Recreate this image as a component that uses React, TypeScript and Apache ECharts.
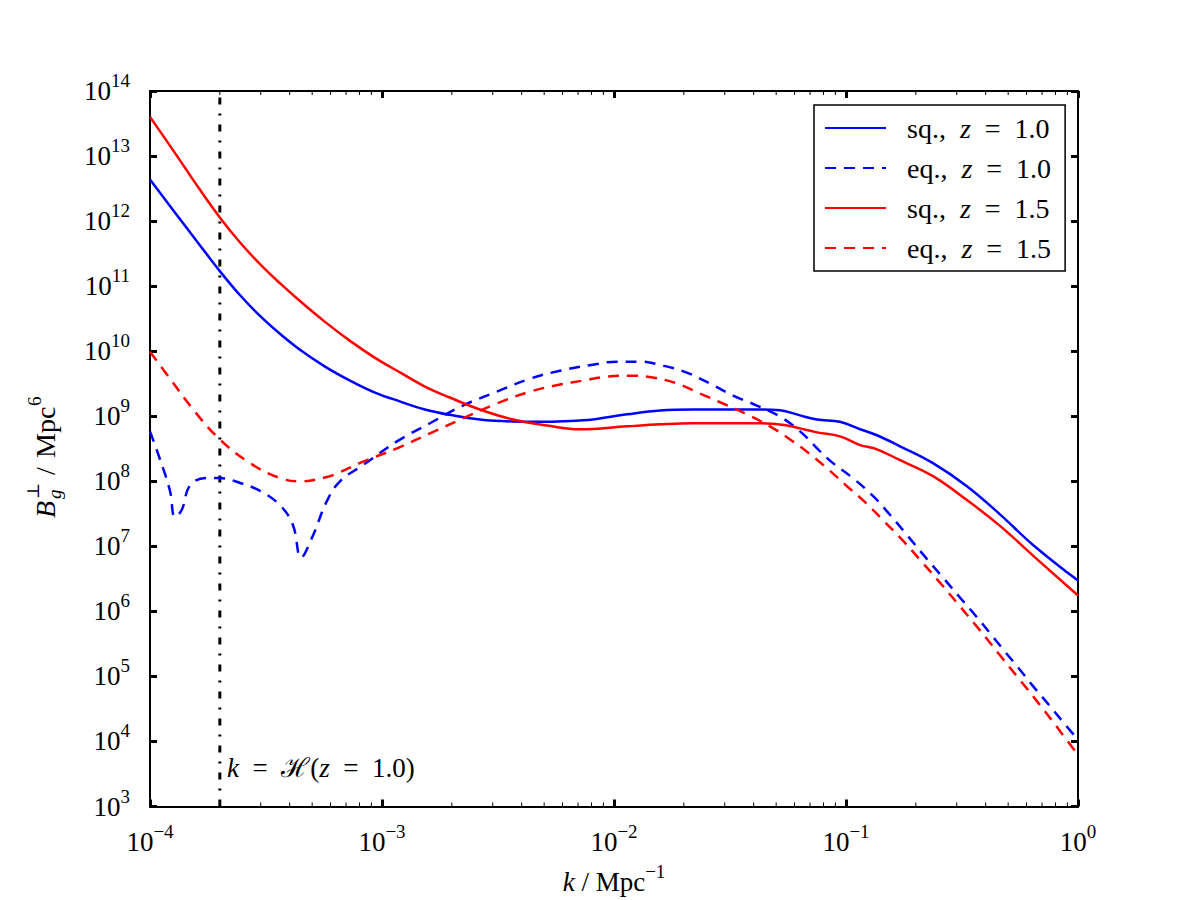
import { useEffect, useRef } from "react";
import * as echarts from "echarts";

const FONT = "'Liberation Serif', 'Times New Roman', 'DejaVu Serif', serif";
const EN = "\u2002";

const X_MIN = 1e-4;
const X_MAX = 1;
const Y_MIN = 1e3;
const Y_MAX = 1e14;

// sq., z = 1.0 (blue solid)
const kSq10 = [1.0e-4, 1.28e-4, 1.64e-4, 2.0e-4, 2.44e-4, 2.98e-4, 3.63e-4, 4.43e-4, 5.68e-4, 7.28e-4, 9.33e-4, 1.2e-3, 1.53e-3, 1.96e-3, 2.64e-3, 3.67e-3, 5.14e-3, 7.13e-3, 8.11e-3, 1.14e-2, 1.58e-2, 2.19e-2, 4.26e-2, 5.19e-2, 6.34e-2, 7.5e-2, 9.42e-2, 0.115, 0.136, 0.171, 0.237, 0.332, 0.461, 0.64, 1.0];
const bSq10 = [4.35e12, 1.36e12, 4.26e11, 1.7e11, 7.3e10, 3.48e10, 1.85e10, 1.05e10, 5.8e9, 3.53e9, 2.31e9, 1.68e9, 1.27e9, 1.05e9, 8.9e8, 8.3e8, 8.2e8, 8.6e8, 8.9e8, 1.07e9, 1.23e9, 1.27e9, 1.27e9, 1.24e9, 1.03e9, 8.9e8, 8.2e8, 6.3e8, 5.1e8, 3.45e8, 1.9e8, 8.4e7, 3.1e7, 1.05e7, 2.97e6];

// eq., z = 1.0 (blue dashed)
const kEq10 = [1.0e-4, 1.1e-4, 1.22e-4, 1.28e-4, 1.37e-4, 1.49e-4, 1.76e-4, 2.0e-4, 2.45e-4, 2.98e-4, 3.63e-4, 4.13e-4, 4.48e-4, 4.99e-4, 5.79e-4, 6.59e-4, 8.28e-4, 1.16e-3, 1.61e-3, 2.23e-3, 3.13e-3, 4.35e-3, 5.85e-3, 8.11e-3, 1.03e-2, 1.29e-2, 1.63e-2, 2.06e-2, 2.59e-2, 3.26e-2, 4.13e-2, 5.19e-2, 6.34e-2, 7.73e-2, 8.79e-2, 0.107, 0.131, 0.155, 0.183, 0.223, 0.262, 0.31, 0.367, 0.418, 0.475, 0.551, 0.64, 0.757, 0.861, 1.0];
const bEq10 = [5.85e8, 2.26e8, 7.1e7, 2.83e7, 3.62e7, 8.7e7, 1.12e8, 1.12e8, 9.4e7, 7.1e7, 4.3e7, 2.13e7, 6.7e6, 1.35e7, 4.97e7, 1.0e8, 1.77e8, 4.1e8, 7.8e8, 1.46e9, 2.39e9, 3.78e9, 5.0e9, 6.2e9, 6.9e9, 6.9e9, 6.0e9, 4.68e9, 3.18e9, 2.08e9, 1.46e9, 9.9e8, 5.85e8, 2.89e8, 1.9e8, 1.12e8, 5.9e7, 3.03e7, 1.5e7, 6.4e6, 3.3e6, 1.63e6, 8.1e5, 4.6e5, 2.61e5, 1.38e5, 7.1e4, 3.5e4, 2.0e4, 1.06e4];

// sq., z = 1.5 (red solid)
const kSq15 = [1.0e-4, 1.28e-4, 1.64e-4, 2.0e-4, 2.44e-4, 2.98e-4, 3.63e-4, 4.43e-4, 5.68e-4, 7.28e-4, 9.33e-4, 1.2e-3, 1.53e-3, 1.96e-3, 2.64e-3, 3.67e-3, 5.14e-3, 7.13e-3, 1.14e-2, 1.58e-2, 2.19e-2, 4.26e-2, 5.57e-2, 6.34e-2, 7.5e-2, 9.42e-2, 0.115, 0.136, 0.171, 0.237, 0.332, 0.461, 0.64, 1.0];
const bSq15 = [4.0e13, 1.12e13, 3.05e12, 1.14e12, 4.72e11, 2.18e11, 1.11e11, 5.9e10, 2.82e10, 1.44e10, 7.9e9, 4.68e9, 2.86e9, 1.94e9, 1.27e9, 8.9e8, 7.2e8, 6.3e8, 7.0e8, 7.5e8, 7.8e8, 7.8e8, 7.2e8, 6.5e8, 5.65e8, 4.9e8, 3.6e8, 3.1e8, 2.11e8, 1.2e8, 5.15e7, 2.06e7, 7.2e6, 1.75e6];

// eq., z = 1.5 (red dashed)
const kEq15 = [1.0e-4, 1.22e-4, 1.56e-4, 2.0e-4, 2.7e-4, 3.63e-4, 4.43e-4, 5.79e-4, 6.59e-4, 8.28e-4, 1.16e-3, 1.61e-3, 2.23e-3, 3.13e-3, 4.35e-3, 5.85e-3, 7.35e-3, 9.33e-3, 1.17e-2, 1.47e-2, 1.87e-2, 2.35e-2, 2.95e-2, 3.74e-2, 4.7e-2, 5.74e-2, 7.0e-2, 8.27e-2, 0.101, 0.123, 0.144, 0.176, 0.2085, 0.254, 0.31, 0.378, 0.461, 0.562, 0.686, 0.836, 1.0];
const bEq15 = [9.8e9, 3.78e9, 1.18e9, 4.4e8, 1.9e8, 1.12e8, 1.0e8, 1.16e8, 1.38e8, 2.0e8, 3.21e8, 5.46e8, 9.25e8, 1.57e9, 2.39e9, 3.07e9, 3.53e9, 4.07e9, 4.2e9, 3.93e9, 3.18e9, 2.23e9, 1.57e9, 1.07e9, 7.0e8, 4.4e8, 2.61e8, 1.59e8, 8.4e7, 4.5e7, 2.55e7, 1.22e7, 6.2e6, 2.77e6, 1.19e6, 5.1e5, 2.11e5, 8.8e4, 3.63e4, 1.45e4, 6.2e3];

// horizon scale k = H(z = 1.0)
const horizonK = 2e-4;
const horizonB = [Y_MIN, Y_MAX];

const seriesNames = ["sq., z = 1.0", "eq., z = 1.0", "sq., z = 1.5", "eq., z = 1.5"];

// minor tick positions on the log x axis
const minorTickK: number[] = [];
for (let d = -4; d < 0; d++) {
  for (let m = 2; m <= 9; m++) minorTickK.push(m * Math.pow(10, d));
}

const zip = (ks: number[], bs: number[]) => ks.map((k, i) => [k, bs[i]]);

const labelRich = {
  b: { fontFamily: FONT, fontSize: 27, lineHeight: 40, color: "#000" },
  s: { fontFamily: FONT, fontSize: 19, lineHeight: 19, color: "#000", verticalAlign: "top" },
};

const textRich = {
  r: { fontFamily: FONT, fontSize: 27, lineHeight: 40, color: "#000" },
  i: { fontFamily: FONT, fontSize: 27, lineHeight: 40, color: "#000", fontStyle: "italic" },
  s: { fontFamily: FONT, fontSize: 19, lineHeight: 19, color: "#000", verticalAlign: "top" },
};

const legendRich = {
  r: { fontFamily: FONT, fontSize: 28, lineHeight: 30, color: "#000" },
  i: { fontFamily: FONT, fontSize: 28, lineHeight: 30, color: "#000", fontStyle: "italic" },
};

const expFormatter = (v: number) => {
  const e = Math.round(Math.log10(v));
  const es = e < 0 ? "\u2212" + -e : String(e);
  return `{b|10}{s|${es}}`;
};

const majorTick = { show: true, inside: true, length: 7, lineStyle: { color: "#000", width: 3 } };
const axisLine = { show: true, onZero: false, lineStyle: { color: "#000", width: 2 } };

export default function App() {
  const ref = useRef<HTMLDivElement>(null);
  useEffect(() => {
    if (!ref.current) return;
    const chart = echarts.init(ref.current, null, { renderer: "svg" });
    const line = (name: string, data: number[][], color: string, dashed: boolean) => ({
      name,
      type: "line",
      data,
      showSymbol: false,
      symbol: "none",
      smooth: 0.4,
      xAxisIndex: 0,
      yAxisIndex: 0,
      lineStyle: { color, width: 2.5, type: dashed ? [11, 8] : "solid" },
      itemStyle: { color },
      z: 3,
    });
    const option: any = {
      animation: false,
      backgroundColor: "#fff",
      grid: { left: 150, right: 122, top: 91, bottom: 90, containLabel: false },
      xAxis: [
        {
          type: "log",
          logBase: 10,
          min: X_MIN,
          max: X_MAX,
          interval: 1,
          position: "bottom",
          axisLine,
          axisTick: majorTick,
          splitLine: { show: false },
          axisLabel: { formatter: expFormatter, rich: labelRich, margin: 15, showMinLabel: true, showMaxLabel: true },
          name: "{i|k}{r| / Mpc}{s|\u22121}",
          nameLocation: "middle",
          nameGap: 55,
          nameTextStyle: { rich: textRich },
        },
        {
          type: "log",
          logBase: 10,
          min: X_MIN,
          max: X_MAX,
          interval: 1,
          position: "top",
          axisLine,
          axisTick: majorTick,
          splitLine: { show: false },
          axisLabel: { show: false },
        },
      ],
      yAxis: [
        {
          type: "log",
          logBase: 10,
          min: Y_MIN,
          max: Y_MAX,
          interval: 1,
          position: "left",
          axisLine,
          axisTick: majorTick,
          splitLine: { show: false },
          axisLabel: { formatter: expFormatter, rich: labelRich, margin: 20, showMinLabel: true, showMaxLabel: true },
        },
        {
          type: "log",
          logBase: 10,
          min: Y_MIN,
          max: Y_MAX,
          interval: 1,
          position: "right",
          axisLine,
          axisTick: majorTick,
          splitLine: { show: false },
          axisLabel: { show: false },
        },
      ],
      legend: {
        data: seriesNames,
        orient: "vertical",
        left: 814,
        top: 105,
        backgroundColor: "#fff",
        borderColor: "#000",
        borderWidth: 1.5,
        borderRadius: 0,
        padding: [9, 14, 9, 10],
        itemWidth: 61,
        itemHeight: 20,
        itemGap: 12,
        selectedMode: false,
        itemStyle: { color: "transparent", borderWidth: 0, opacity: 0 },
        formatter: (name: string) => {
          const parts = name.split(", z = ");
          return `{r|${parts[0]},${EN}}{i|z}{r|${EN}=${EN}${parts[1]}}`;
        },
        textStyle: { rich: legendRich, padding: [0, 0, 0, 16] },
      },
      graphic: [
        {
          type: "text",
          x: 227,
          y: 768,
          silent: true,
          style: {
            text: `{i|k}{r|${EN}=${EN}\u210B(}{i|z}{r|${EN}=${EN}1.0)}`,
            rich: textRich,
            verticalAlign: "middle",
            align: "left",
          },
        },
        {
          type: "group",
          x: 45,
          y: 518,
          rotation: Math.PI / 2,
          silent: true,
          children: [
            { type: "text", x: 0, y: 0, style: { text: "B", fontFamily: FONT, fontSize: 28, fontStyle: "italic", fill: "#000", verticalAlign: "middle", align: "left" } },
            { type: "text", x: 19, y: -12, style: { text: "\u22A5", fontFamily: FONT, fontSize: 17, fill: "#000", verticalAlign: "middle", align: "left" } },
            { type: "text", x: 19, y: 9, style: { text: "g", fontFamily: FONT, fontSize: 19, fontStyle: "italic", fill: "#000", verticalAlign: "middle", align: "left" } },
            { type: "text", x: 43, y: 0, style: { text: "/", fontFamily: FONT, fontSize: 28, fill: "#000", verticalAlign: "middle", align: "left" } },
            { type: "text", x: 60, y: 0, style: { text: "Mpc", fontFamily: FONT, fontSize: 28, fill: "#000", verticalAlign: "middle", align: "left" } },
            { type: "text", x: 112, y: -11, style: { text: "6", fontFamily: FONT, fontSize: 19, fill: "#000", verticalAlign: "middle", align: "left" } },
          ],
        },
      ],
      series: [
        line(seriesNames[0], zip(kSq10, bSq10), "#0000ff", false),
        line(seriesNames[1], zip(kEq10, bEq10), "#0000ff", true),
        line(seriesNames[2], zip(kSq15, bSq15), "#ff0000", false),
        line(seriesNames[3], zip(kEq15, bEq15), "#ff0000", true),
        {
          name: "horizon",
          type: "line",
          data: horizonB.map((b) => [horizonK, b]),
          symbol: "none",
          showSymbol: false,
          lineStyle: { color: "#000", width: 3, type: [7, 9, 2, 9] },
          z: 2,
        },
        {
          name: "minorTicks",
          type: "custom",
          clip: false,
          silent: true,
          data: minorTickK.map((k) => [k, Y_MIN]),
          renderItem: (params: any, api: any) => {
            const k = api.value(0);
            const b = api.coord([k, Y_MIN]);
            const t = api.coord([k, Y_MAX]);
            return {
              type: "group",
              children: [
                { type: "line", shape: { x1: b[0], y1: b[1], x2: b[0], y2: b[1] - 4 }, style: { stroke: "#000", lineWidth: 1 } },
                { type: "line", shape: { x1: t[0], y1: t[1], x2: t[0], y2: t[1] + 4 }, style: { stroke: "#000", lineWidth: 1 } },
              ],
            };
          },
          z: 4,
        },
      ],
    };
    chart.setOption(option);
    return () => chart.dispose();
  }, []);
  return <div ref={ref} style={{ position: "absolute", left: 0, top: 0, width: 1200, height: 900 }} />;
}
